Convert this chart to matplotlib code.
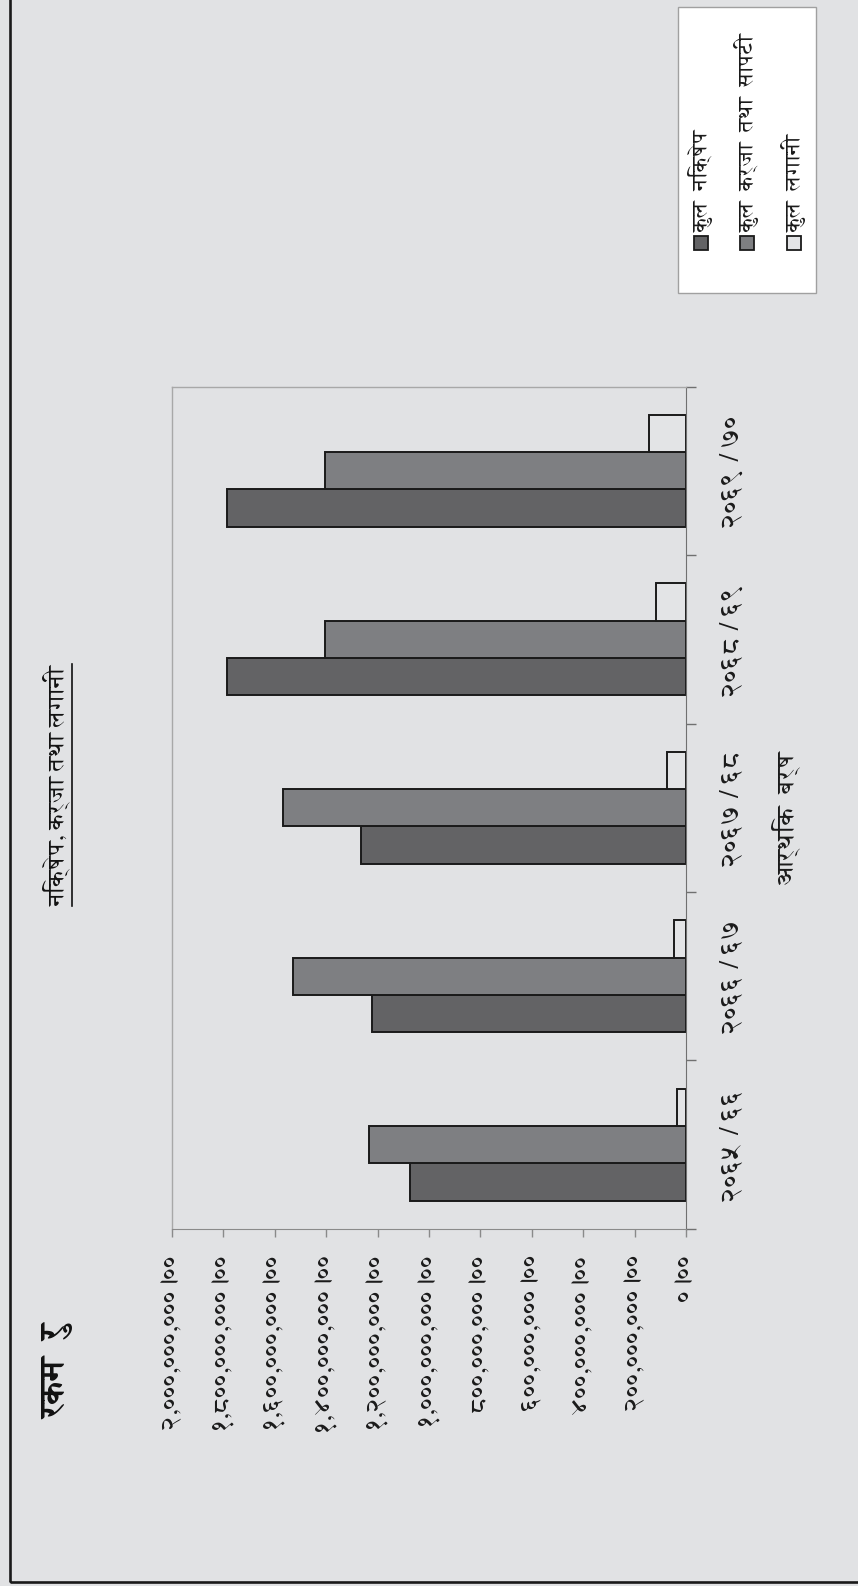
import matplotlib
matplotlib.use('Agg')
import matplotlib.pyplot as plt
from matplotlib.patches import Rectangle
from matplotlib.lines import Line2D
import numpy as np

plt.rcParams['font.family'] = ['FreeSerif', 'DejaVu Sans']

years = ['२०६५ / ६६', '२०६६ / ६७', '२०६७ / ६८', '२०६८ / ६९', '२०६९ / ७०']
deposit = [1.074e9, 1.221e9, 1.265e9, 1.785e9, 1.785e9]     # कुल निक्षेप
loan = [1.235e9, 1.529e9, 1.569e9, 1.404e9, 1.404e9]        # कुल कर्जा तथा सापटी
invest = [34e6, 47e6, 75e6, 118e6, 144e6]                   # कुल लगानी
series_names = ['कुल  निक्षेप', 'कुल  कर्जा  तथा  सापटी', 'कुल  लगानी']
value_ticks = [0, 2e8, 4e8, 6e8, 8e8, 1e9, 1.2e9, 1.4e9, 1.6e9, 1.8e9, 2e9]
value_labels = ['०।००', '२००,०००,०००।००', '४००,०००,०००।००', '६००,०००,०००।००',
                '८००,०००,०००।००', '१,०००,०००,०००।००', '१,२००,०००,०००।००',
                '१,४००,०००,०००।००', '१,६००,०००,०००।००', '१,८००,०००,०००।००',
                '२,०००,०००,०००।००']

bg = '#e1e2e4'
colors = ['#636365', '#7e7f82', '#e3e4e6']

fig = plt.figure(figsize=(8.58, 15.86), dpi=100, facecolor=bg)

# outer frame (runs off the top and right edge)
fig.patches.append(Rectangle((9.5 / 858, 1 - 1582 / 1586), 1.0, 1.0,
                             transform=fig.transFigure, fill=False,
                             edgecolor='#1a1a1a', linewidth=1.9))

# the chart is printed turned on its side: values run right->left, years bottom->top
ax = fig.add_axes([0.2005, 0.2251, 0.599, 0.5312])
ax.set_facecolor('none')

y = np.arange(len(years))
h = 0.222
for vals, off, c in zip([deposit, loan, invest], [-h, 0, h], colors):
    ax.barh(y + off, vals, height=h, color=c, edgecolor='#1a1a1a', linewidth=1.4)

ax.set_xlim(2e9, 0)
ax.set_ylim(-0.5, len(years) - 0.5)

for s in ['top', 'left']:
    ax.spines[s].set_color('#a8a8a8')
    ax.spines[s].set_linewidth(1.0)
ax.spines['right'].set_color('#707070')
ax.spines['bottom'].set_color('#8a8a8a')

ax.set_xticks(value_ticks)
ax.set_xticklabels(value_labels, rotation=90, fontsize=18.5, color='#1a1a1a')
ax.tick_params(axis='x', direction='out', length=6, width=1, color='#8a8a8a', pad=12)

ax.yaxis.tick_right()
ax.set_yticks(y)
ax.set_yticklabels(years, rotation=90, va='center', fontsize=19.5, color='#1a1a1a')
ax.set_yticks(np.arange(-0.5, len(years)), minor=True)
ax.tick_params(axis='y', which='major', length=0, pad=24)
ax.tick_params(axis='y', which='minor', direction='out', length=7, width=1, color='#707070')

# axis title / unit / chart title, all turned 90 degrees
fig.text(0.916, 0.484, 'आर्थिक  बर्ष', rotation=90, ha='center', va='center',
         fontsize=18, color='#1a1a1a')
fig.text(0.069, 0.1355, 'रकम  रु', rotation=90, ha='center', va='center',
         fontsize=24, fontweight='bold', color='#111111')
title = fig.text(0.066, 0.505, 'निक्षेप, कर्जा तथा लगानी', rotation=90,
                 ha='center', va='center', fontsize=16.5, color='#111111')

renderer = fig.canvas.get_renderer()
bb = title.get_window_extent(renderer).transformed(fig.transFigure.inverted())
fig.add_artist(Line2D([bb.x1 + 2 / 858] * 2, [bb.y0, bb.y1], transform=fig.transFigure,
                      color='#111111', linewidth=1.2))

# legend box, drawn by hand because it is rotated too
fig.patches.append(Rectangle((678 / 858, 1 - 293 / 1586), 138 / 858, 286 / 1586,
                             transform=fig.transFigure, facecolor='white',
                             edgecolor='#a0a0a0', linewidth=1.0))
leg_x = [701, 747, 794]
for px, name, c in zip(leg_x, series_names, colors):
    fig.patches.append(Rectangle(((px - 7) / 858, 1 - 250 / 1586), 14 / 858, 14 / 1586,
                                 transform=fig.transFigure, facecolor=c,
                                 edgecolor='#1a1a1a', linewidth=1.3))
    fig.text(px / 858, 1 - 232 / 1586, name, rotation=90, ha='center', va='bottom',
             fontsize=15, color='#1a1a1a')

fig.savefig('out.png', dpi=100, facecolor=bg)
